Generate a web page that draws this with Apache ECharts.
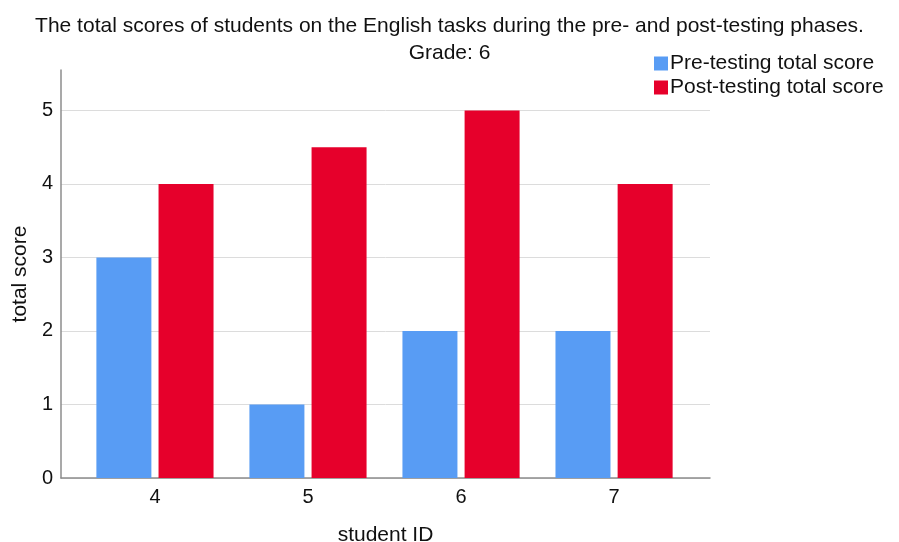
<!DOCTYPE html>
<html><head><meta charset="utf-8">
<script src="https://cdn.jsdelivr.net/npm/echarts@6/dist/echarts.min.js"></script>
<style>html,body{margin:0;padding:0;background:#fff}#c{width:899px;height:542px}</style>
</head><body><div id="c"></div>
<script>
const studentIds = [4, 5, 6, 7];
const preScores = [3, 1, 2, 2];
const postScores = [4, 4.5, 5, 4];
const yTicks = [0, 1, 2, 3, 4, 5];

const font = 'Liberation Sans, Arial, sans-serif';
const chart = echarts.init(document.getElementById('c'));
chart.setOption({
  backgroundColor: '#fff',
  animation: false,
  title: {
    text: 'The total scores of students on the English tasks during the pre- and post-testing phases.\nGrade: 6',
    left: 'center', top: 8,
    textStyle: { fontFamily: font, fontSize: 21, fontWeight: 'normal', color: '#111', lineHeight: 27 }
  },
  legend: {
    orient: 'vertical', left: 649, top: 48, itemGap: 3,
    itemWidth: 14, itemHeight: 14, icon: 'rect',
    textStyle: { fontFamily: font, fontSize: 21, color: '#111', padding: [0, 0, 0, -3] },
    data: ['Pre-testing total score', 'Post-testing total score']
  },
  grid: { left: 61, right: 189, top: 70, bottom: 64, outerBoundsMode: 'none', containLabel: false },
  xAxis: {
    type: 'value', min: 3.386, max: 7.627,
    name: 'student ID', nameLocation: 'middle', nameGap: 47,
    nameTextStyle: { fontFamily: font, fontSize: 21, color: '#111' },
    axisLine: { show: true, lineStyle: { color: '#8c8c8c', width: 1.5 } },
    axisTick: { show: false },
    splitLine: { show: false },
    axisLabel: {
      fontFamily: font, fontSize: 20, color: '#111', margin: 9,
      showMinLabel: false, showMaxLabel: false,
      formatter: v => studentIds.includes(v) ? String(v) : ''
    }
  },
  yAxis: {
    type: 'value', min: 0, max: 5.55, interval: 1,
    name: 'total score', nameLocation: 'middle', nameGap: 28,
    nameTextStyle: { fontFamily: font, fontSize: 21, color: '#111' },
    axisLine: { show: true, lineStyle: { color: '#8c8c8c', width: 1.5 } },
    axisTick: { show: false },
    splitLine: { show: true, showMaxLine: false, lineStyle: { color: '#dcdcdc', width: 1 } },
    axisLabel: {
      fontFamily: font, fontSize: 20, color: '#111', margin: 8,
      showMaxLabel: false,
      formatter: v => yTicks.includes(v) ? String(v) : ''
    }
  },
  series: [
    {
      name: 'Pre-testing total score', type: 'bar',
      data: studentIds.map((id, i) => [id, preScores[i]]),
      barWidth: 55, barGap: '13%',
      itemStyle: { color: '#589cf4' }
    },
    {
      name: 'Post-testing total score', type: 'bar',
      data: studentIds.map((id, i) => [id, postScores[i]]),
      barWidth: 55,
      itemStyle: { color: '#e6002b' }
    }
  ]
});
</script></body></html>
